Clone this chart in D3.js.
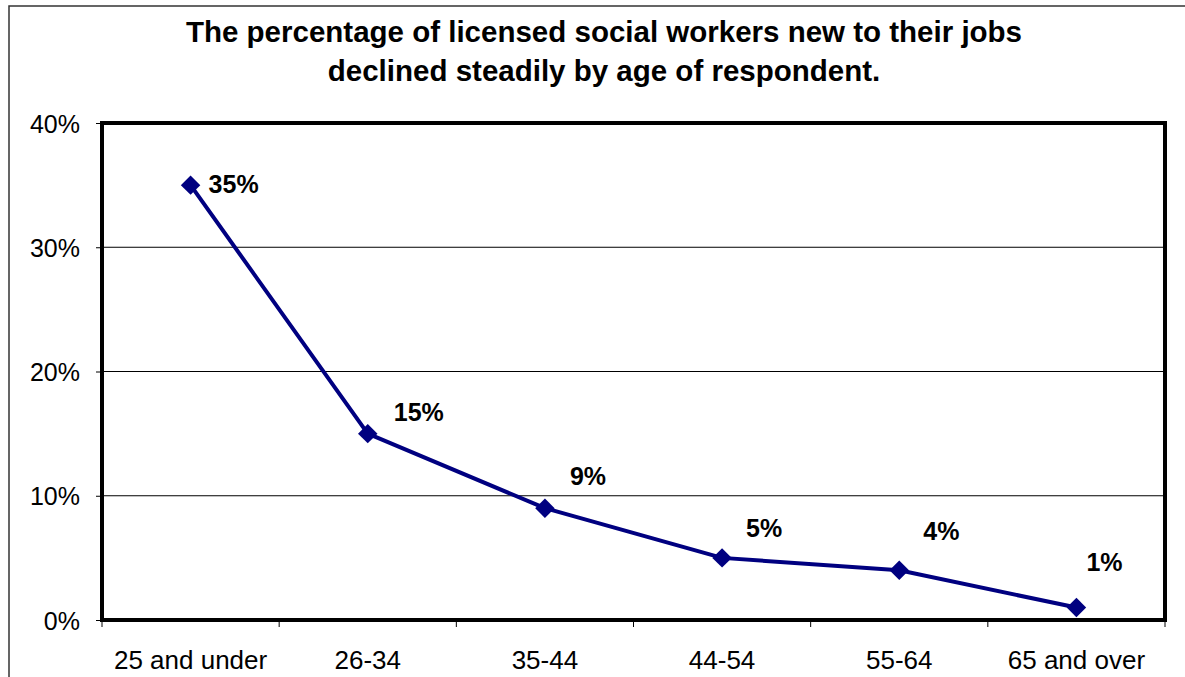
<!DOCTYPE html>
<html>
<head>
<meta charset="utf-8">
<script src="https://cdn.jsdelivr.net/npm/d3@7"></script>
<style>
  html, body { margin: 0; padding: 0; background: #fff; }
  svg { display: block; font-family: "Liberation Sans", Arial, sans-serif; }
</style>
</head>
<body>
<div id="chart"></div>
<script>
// data
const categories = ["25 and under", "26-34", "35-44", "44-54", "55-64", "65 and over"];
const values = [35, 15, 9, 5, 4, 1];
const yTicks = [0, 10, 20, 30, 40];
const titleLines = [
  "The percentage of licensed social workers new to their jobs",
  "declined steadily by age of respondent."
];

// label offsets (px) from each point, as placed in the original
const labelDx = [18, 26, 25, 24, 24, 10];
const labelDy = [-1, -22, -32, -30, -39, -46];

const W = 1185, H = 677;
const plot = { left: 102, right: 1165, top: 123, bottom: 620 };

const svg = d3.select("#chart").append("svg")
    .attr("width", W)
    .attr("height", H);

// outer frame
svg.append("rect")
    .attr("x", 9).attr("y", 6)
    .attr("width", W).attr("height", H)
    .attr("fill", "#fff")
    .attr("stroke", "#333")
    .attr("stroke-width", 1.5);

// title
svg.append("text")
    .attr("x", 604)
    .attr("text-anchor", "middle")
    .style("font-weight", "bold")
    .style("font-size", "29.5px")
    .selectAll("tspan")
    .data(titleLines)
    .enter().append("tspan")
    .attr("x", 604)
    .attr("y", (d, i) => 42 + i * 39)
    .text(d => d);

const x = d3.scaleBand()
    .domain(categories)
    .range([plot.left, plot.right]);

const y = d3.scaleLinear()
    .domain([0, 40])
    .range([plot.bottom, plot.top]);

// gridlines
svg.append("g")
    .selectAll("line")
    .data(yTicks.filter(d => d > 0 && d < 40))
    .enter().append("line")
    .attr("x1", plot.left).attr("x2", plot.right)
    .attr("y1", d => y(d)).attr("y2", d => y(d))
    .attr("stroke", "#000")
    .attr("stroke-width", 1);

// y axis
const yAxis = d3.axisLeft(y)
    .tickValues(yTicks)
    .tickFormat(d => d + "%")
    .tickSize(5)
    .tickPadding(16);

const yG = svg.append("g")
    .attr("transform", `translate(${plot.left - 1},0)`)
    .call(yAxis);
yG.select(".domain").remove();
yG.selectAll("text")
    .style("font-size", "25px")
    .style("font-family", "'Liberation Sans', Arial, sans-serif")
    .attr("fill", "#000")
    .attr("dy", "0.36em");

// x axis: ticks at band boundaries
const xG = svg.append("g")
    .attr("transform", `translate(0,${plot.bottom})`);
const bounds = categories.map(c => x(c)).concat([plot.right]);
xG.selectAll("line")
    .data(bounds)
    .enter().append("line")
    .attr("x1", d => d).attr("x2", d => d)
    .attr("y1", 0).attr("y2", 7)
    .attr("stroke", "#000");
xG.selectAll("text")
    .data(categories)
    .enter().append("text")
    .attr("x", d => x(d) + x.bandwidth() / 2)
    .attr("y", 49)
    .attr("text-anchor", "middle")
    .style("font-size", "26px")
    .text(d => d);

// plot frame
svg.append("rect")
    .attr("x", plot.left).attr("y", plot.top)
    .attr("width", plot.right - plot.left)
    .attr("height", plot.bottom - plot.top)
    .attr("fill", "none")
    .attr("stroke", "#000")
    .attr("stroke-width", 4);

const cx = d => x(d) + x.bandwidth() / 2;

// line
const line = d3.line()
    .x((d, i) => cx(categories[i]))
    .y(d => y(d));

svg.append("path")
    .datum(values)
    .attr("d", line)
    .attr("fill", "none")
    .attr("stroke", "#000080")
    .attr("stroke-width", 4)
    .attr("stroke-linejoin", "round");

// markers
svg.append("g")
    .selectAll("path")
    .data(values)
    .enter().append("path")
    .attr("d", d3.symbol(d3.symbolSquare, 190))
    .attr("transform", (d, i) => `translate(${cx(categories[i])},${y(d)}) rotate(45)`)
    .attr("fill", "#000080");

// data labels
svg.append("g")
    .selectAll("text")
    .data(values)
    .enter().append("text")
    .attr("x", (d, i) => cx(categories[i]) + labelDx[i])
    .attr("y", (d, i) => y(d) + labelDy[i])
    .attr("dy", "0.36em")
    .style("font-size", "25px")
    .style("font-weight", "bold")
    .text(d => d + "%");
</script>
</body>
</html>
